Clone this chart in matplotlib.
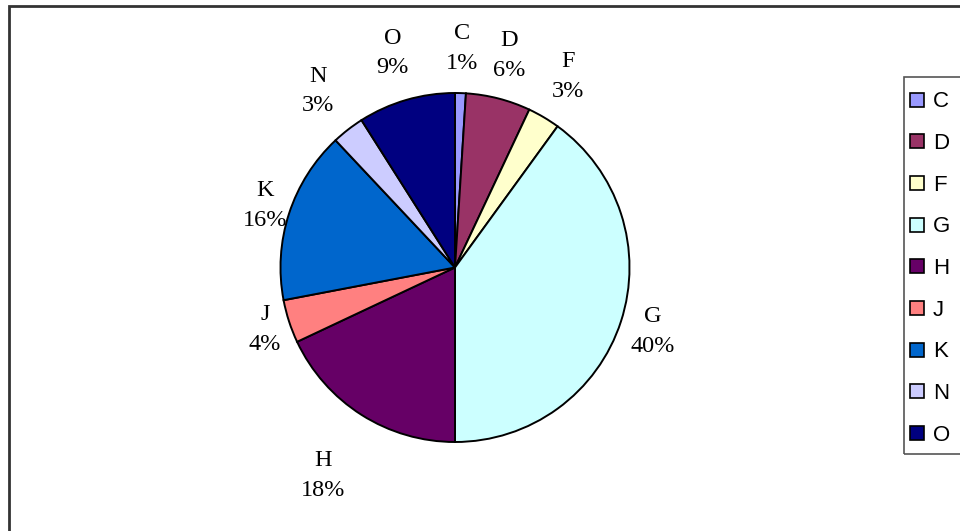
import numpy as np
import matplotlib
matplotlib.use("Agg")
import matplotlib.pyplot as plt
from matplotlib.patches import Patch, Rectangle

# Share of each category (percent)
categories = ["C", "D", "F", "G", "H", "J", "K", "N", "O"]
shares = [1, 6, 3, 40, 18, 4, 16, 3, 9]
colors = ["#9999FF", "#993366", "#FFFFCC", "#CCFFFF", "#660066",
          "#FF8080", "#0066CC", "#CCCCFF", "#000080"]

# Layout (pixel units on a 960x531 canvas)
W, H = 960, 531
center = (455, H - 267.5)
radius = 174.5
# distance of each data label from the centre, in radii
label_dist = [1.255, 1.255, 1.27, 1.19, 1.41, 1.146, 1.146, 1.28, 1.28]

fig = plt.figure(figsize=(W / 100, H / 100), dpi=100)
ax = fig.add_axes([0, 0, 1, 1])

# outer chart border (right and bottom edges fall outside the canvas)
ax.add_patch(Rectangle((9, -10), W + 20, H - 6 + 10, fill=False,
                       edgecolor="#333333", linewidth=2.0, clip_on=False))

wedges, _ = ax.pie(shares, colors=colors, startangle=90, counterclock=False,
                   center=center, radius=radius, frame=True,
                   wedgeprops=dict(edgecolor="black", linewidth=1.4))
ax.set_xlim(0, W)
ax.set_ylim(0, H)
ax.set_aspect("equal")
ax.axis("off")

for w, cat, val, d in zip(wedges, categories, shares, label_dist):
    mid = np.deg2rad((w.theta1 + w.theta2) / 2)
    x = center[0] + d * radius * np.cos(mid)
    y = center[1] + d * radius * np.sin(mid)
    ax.text(x, y, f"{cat}\n{val}%", ha="center", va="center",
            fontsize=17.5, family="Liberation Serif", linespacing=1.55,
            color="black")

# legend frame
ax.add_patch(Rectangle((904, H - 454), 80, 377, fill=False,
                       edgecolor="#555555", linewidth=1.2, clip_on=False))

handles = [Patch(facecolor=c, edgecolor="black", linewidth=1.2) for c in colors]
leg = ax.legend(handles, categories, loc="upper left",
                bbox_to_anchor=(906 / W, (H - 87) / H),
                bbox_transform=fig.transFigure, frameon=False,
                prop=dict(family="Liberation Sans", size=16),
                handlelength=0.6, handleheight=0.6, handletextpad=0.4,
                labelspacing=0.93, borderpad=0.2, borderaxespad=0)

fig.savefig("out.png", dpi=100, facecolor="white")
